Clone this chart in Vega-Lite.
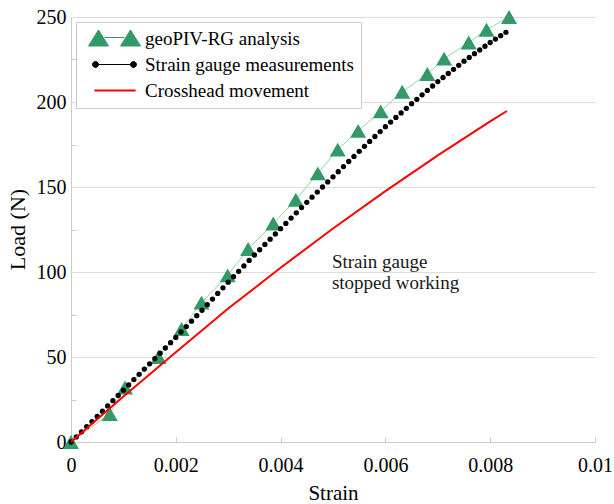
{
  "$schema": "https://vega.github.io/schema/vega-lite/v6.json",
  "width": 524,
  "height": 425,
  "autosize": {"type": "none"},
  "padding": {"left": 71, "top": 17, "right": 19, "bottom": 62},
  "background": "white",
  "config": {
    "view": {"stroke": null},
    "font": "Liberation Serif"
  },
  "datasets": {
    "main": [
      {"series": "geoPIV-RG analysis", "strain": 0, "load": 0},
      {"series": "geoPIV-RG analysis", "strain": 0.00074, "load": 16.5},
      {"series": "geoPIV-RG analysis", "strain": 0.00103, "load": 32},
      {"series": "geoPIV-RG analysis", "strain": 0.00167, "load": 50},
      {"series": "geoPIV-RG analysis", "strain": 0.00211, "load": 66.5},
      {"series": "geoPIV-RG analysis", "strain": 0.00249, "load": 82},
      {"series": "geoPIV-RG analysis", "strain": 0.00299, "load": 98},
      {"series": "geoPIV-RG analysis", "strain": 0.00338, "load": 113.5},
      {"series": "geoPIV-RG analysis", "strain": 0.00386, "load": 128.5},
      {"series": "geoPIV-RG analysis", "strain": 0.00429, "load": 142.5},
      {"series": "geoPIV-RG analysis", "strain": 0.00471, "load": 158},
      {"series": "geoPIV-RG analysis", "strain": 0.00509, "load": 172},
      {"series": "geoPIV-RG analysis", "strain": 0.00548, "load": 183},
      {"series": "geoPIV-RG analysis", "strain": 0.00591, "load": 194.5},
      {"series": "geoPIV-RG analysis", "strain": 0.00632, "load": 206},
      {"series": "geoPIV-RG analysis", "strain": 0.0068, "load": 216.5},
      {"series": "geoPIV-RG analysis", "strain": 0.00712, "load": 225.5},
      {"series": "geoPIV-RG analysis", "strain": 0.00759, "load": 235},
      {"series": "geoPIV-RG analysis", "strain": 0.00793, "load": 242.5},
      {"series": "geoPIV-RG analysis", "strain": 0.00836, "load": 250},
      {"series": "Crosshead movement", "strain": 0, "load": 0},
      {"series": "Crosshead movement", "strain": 0.001, "load": 26.8},
      {"series": "Crosshead movement", "strain": 0.002, "load": 52.8},
      {"series": "Crosshead movement", "strain": 0.003, "load": 78.5},
      {"series": "Crosshead movement", "strain": 0.004, "load": 102.5},
      {"series": "Crosshead movement", "strain": 0.005, "load": 125.6},
      {"series": "Crosshead movement", "strain": 0.006, "load": 147.6},
      {"series": "Crosshead movement", "strain": 0.007, "load": 168.6},
      {"series": "Crosshead movement", "strain": 0.008, "load": 188.6},
      {"series": "Crosshead movement", "strain": 0.00832, "load": 194.7},
      {"series": "Strain gauge measurements", "strain": 0, "load": 0},
      {"series": "Strain gauge measurements", "strain": 0.0001, "load": 3},
      {"series": "Strain gauge measurements", "strain": 0.0002, "load": 6},
      {"series": "Strain gauge measurements", "strain": 0.0003, "load": 9},
      {"series": "Strain gauge measurements", "strain": 0.0004, "load": 12},
      {"series": "Strain gauge measurements", "strain": 0.0005, "load": 15},
      {"series": "Strain gauge measurements", "strain": 0.0006, "load": 18.1},
      {"series": "Strain gauge measurements", "strain": 0.0007, "load": 21.2},
      {"series": "Strain gauge measurements", "strain": 0.0008, "load": 24.3},
      {"series": "Strain gauge measurements", "strain": 0.0009, "load": 27.4},
      {"series": "Strain gauge measurements", "strain": 0.001, "load": 30.5},
      {"series": "Strain gauge measurements", "strain": 0.0011, "load": 33.6},
      {"series": "Strain gauge measurements", "strain": 0.0012, "load": 36.7},
      {"series": "Strain gauge measurements", "strain": 0.0013, "load": 39.8},
      {"series": "Strain gauge measurements", "strain": 0.0014, "load": 42.9},
      {"series": "Strain gauge measurements", "strain": 0.0015, "load": 46},
      {"series": "Strain gauge measurements", "strain": 0.0016, "load": 49.1},
      {"series": "Strain gauge measurements", "strain": 0.0017, "load": 52.2},
      {"series": "Strain gauge measurements", "strain": 0.0018, "load": 55.3},
      {"series": "Strain gauge measurements", "strain": 0.0019, "load": 58.4},
      {"series": "Strain gauge measurements", "strain": 0.002, "load": 61.5},
      {"series": "Strain gauge measurements", "strain": 0.0021, "load": 64.7},
      {"series": "Strain gauge measurements", "strain": 0.0022, "load": 67.9},
      {"series": "Strain gauge measurements", "strain": 0.0023, "load": 71.1},
      {"series": "Strain gauge measurements", "strain": 0.0024, "load": 74.3},
      {"series": "Strain gauge measurements", "strain": 0.0025, "load": 77.5},
      {"series": "Strain gauge measurements", "strain": 0.0026, "load": 80.8},
      {"series": "Strain gauge measurements", "strain": 0.0027, "load": 84.1},
      {"series": "Strain gauge measurements", "strain": 0.0028, "load": 87.4},
      {"series": "Strain gauge measurements", "strain": 0.0029, "load": 90.7},
      {"series": "Strain gauge measurements", "strain": 0.003, "load": 94},
      {"series": "Strain gauge measurements", "strain": 0.0031, "load": 97.2},
      {"series": "Strain gauge measurements", "strain": 0.0032, "load": 100.4},
      {"series": "Strain gauge measurements", "strain": 0.0033, "load": 103.6},
      {"series": "Strain gauge measurements", "strain": 0.0034, "load": 106.8},
      {"series": "Strain gauge measurements", "strain": 0.0035, "load": 110},
      {"series": "Strain gauge measurements", "strain": 0.0036, "load": 113.1},
      {"series": "Strain gauge measurements", "strain": 0.0037, "load": 116.2},
      {"series": "Strain gauge measurements", "strain": 0.0038, "load": 119.3},
      {"series": "Strain gauge measurements", "strain": 0.0039, "load": 122.4},
      {"series": "Strain gauge measurements", "strain": 0.004, "load": 125.5},
      {"series": "Strain gauge measurements", "strain": 0.0041, "load": 128.6},
      {"series": "Strain gauge measurements", "strain": 0.0042, "load": 131.7},
      {"series": "Strain gauge measurements", "strain": 0.0043, "load": 134.8},
      {"series": "Strain gauge measurements", "strain": 0.0044, "load": 137.9},
      {"series": "Strain gauge measurements", "strain": 0.0045, "load": 141},
      {"series": "Strain gauge measurements", "strain": 0.0046, "load": 144},
      {"series": "Strain gauge measurements", "strain": 0.0047, "load": 147},
      {"series": "Strain gauge measurements", "strain": 0.0048, "load": 150},
      {"series": "Strain gauge measurements", "strain": 0.0049, "load": 153},
      {"series": "Strain gauge measurements", "strain": 0.005, "load": 156},
      {"series": "Strain gauge measurements", "strain": 0.0051, "load": 159},
      {"series": "Strain gauge measurements", "strain": 0.0052, "load": 162},
      {"series": "Strain gauge measurements", "strain": 0.0053, "load": 165},
      {"series": "Strain gauge measurements", "strain": 0.0054, "load": 168},
      {"series": "Strain gauge measurements", "strain": 0.0055, "load": 171},
      {"series": "Strain gauge measurements", "strain": 0.0056, "load": 173.9},
      {"series": "Strain gauge measurements", "strain": 0.0057, "load": 176.8},
      {"series": "Strain gauge measurements", "strain": 0.0058, "load": 179.7},
      {"series": "Strain gauge measurements", "strain": 0.0059, "load": 182.6},
      {"series": "Strain gauge measurements", "strain": 0.006, "load": 185.5},
      {"series": "Strain gauge measurements", "strain": 0.0061, "load": 188.2},
      {"series": "Strain gauge measurements", "strain": 0.0062, "load": 190.9},
      {"series": "Strain gauge measurements", "strain": 0.0063, "load": 193.6},
      {"series": "Strain gauge measurements", "strain": 0.0064, "load": 196.3},
      {"series": "Strain gauge measurements", "strain": 0.0065, "load": 199},
      {"series": "Strain gauge measurements", "strain": 0.0066, "load": 201.6},
      {"series": "Strain gauge measurements", "strain": 0.0067, "load": 204.2},
      {"series": "Strain gauge measurements", "strain": 0.0068, "load": 206.8},
      {"series": "Strain gauge measurements", "strain": 0.0069, "load": 209.4},
      {"series": "Strain gauge measurements", "strain": 0.007, "load": 212},
      {"series": "Strain gauge measurements", "strain": 0.0071, "load": 214.4},
      {"series": "Strain gauge measurements", "strain": 0.0072, "load": 216.8},
      {"series": "Strain gauge measurements", "strain": 0.0073, "load": 219.2},
      {"series": "Strain gauge measurements", "strain": 0.0074, "load": 221.6},
      {"series": "Strain gauge measurements", "strain": 0.0075, "load": 224},
      {"series": "Strain gauge measurements", "strain": 0.0076, "load": 226.2},
      {"series": "Strain gauge measurements", "strain": 0.0077, "load": 228.4},
      {"series": "Strain gauge measurements", "strain": 0.0078, "load": 230.6},
      {"series": "Strain gauge measurements", "strain": 0.0079, "load": 232.8},
      {"series": "Strain gauge measurements", "strain": 0.008, "load": 235},
      {"series": "Strain gauge measurements", "strain": 0.0081, "load": 237},
      {"series": "Strain gauge measurements", "strain": 0.0082, "load": 239},
      {"series": "Strain gauge measurements", "strain": 0.0083, "load": 241}
    ],
    "notes": [
      {"strain": 0.00498, "load": 102.5, "text": ["Strain gauge", "stopped working"]}
    ]
  },
  "layer": [
    {
      "data": {"name": "main"},
      "transform": [{"filter": "datum.series === 'geoPIV-RG analysis'"}],
      "mark": {"type": "line", "strokeWidth": 1},
      "encoding": {
        "x": {"field": "strain", "type": "quantitative"},
        "y": {"field": "load", "type": "quantitative"},
        "color": {"value": "#96d6a4"}
      }
    },
    {
      "data": {"name": "main"},
      "transform": [{"filter": "datum.series === 'geoPIV-RG analysis'"}],
      "mark": {"type": "point", "shape": "triangle-up", "filled": true, "size": 256, "opacity": 1},
      "encoding": {
        "x": {"field": "strain", "type": "quantitative"},
        "y": {"field": "load", "type": "quantitative"}
      }
    },
    {
      "data": {"name": "main"},
      "transform": [{"filter": "datum.series === 'Strain gauge measurements'"}],
      "mark": {"type": "point", "shape": "circle", "filled": true, "size": 28, "opacity": 1},
      "encoding": {
        "x": {"field": "strain", "type": "quantitative"},
        "y": {"field": "load", "type": "quantitative"}
      }
    },
    {
      "data": {"name": "main"},
      "transform": [{"filter": "datum.series === 'Crosshead movement'"}],
      "mark": {"type": "line", "strokeWidth": 2},
      "encoding": {
        "x": {"field": "strain", "type": "quantitative"},
        "y": {"field": "load", "type": "quantitative"}
      }
    },
    {
      "data": {"name": "notes"},
      "mark": {"type": "text", "align": "left", "baseline": "alphabetic", "font": "Liberation Serif", "fontSize": 19, "lineHeight": 21},
      "encoding": {
        "x": {"field": "strain", "type": "quantitative"},
        "y": {"field": "load", "type": "quantitative"},
        "text": {"field": "text", "type": "nominal"},
        "color": {"value": "#1a1a1a"}
      }
    }
  ],
  "encoding": {
    "x": {
      "field": "strain",
      "type": "quantitative",
      "scale": {"domain": [0, 0.01], "nice": false, "zero": false},
      "axis": {
        "title": "Strain",
        "values": [0, 0.002, 0.004, 0.006, 0.008, 0.01],
        "format": "~g",
        "grid": false,
        "domainColor": "#cccccc",
        "tickColor": "#cccccc",
        "tickSize": -5,
        "labelPadding": 18,
        "labelFont": "Liberation Serif",
        "labelFontSize": 20,
        "labelColor": "black",
        "labelFlush": false,
        "labelOverlap": false,
        "titleFont": "Liberation Serif",
        "titleFontSize": 21,
        "titleFontWeight": "normal",
        "titleColor": "black",
        "titleX": 262,
        "titleY": 57,
        "titleBaseline": "alphabetic"
      }
    },
    "y": {
      "field": "load",
      "type": "quantitative",
      "scale": {"domain": [0, 250], "nice": false},
      "axis": {
        "title": "Load (N)",
        "values": [0, 25, 50, 75, 100, 125, 150, 175, 200, 225, 250],
        "labelExpr": "datum.value % 50 === 0 ? datum.label : ''",
        "grid": true,
        "gridColor": "#dddddd",
        "gridOpacity": {"condition": {"test": "datum.value % 50 === 0", "value": 1}, "value": 0},
        "tickOpacity": {"condition": {"test": "datum.value % 50 === 0", "value": 0}, "value": 1},
        "domainColor": "#cccccc",
        "tickColor": "#cccccc",
        "tickSize": -5,
        "labelPadding": 10,
        "labelFont": "Liberation Serif",
        "labelFontSize": 20,
        "labelColor": "black",
        "labelFlush": false,
        "labelOverlap": false,
        "titleFont": "Liberation Serif",
        "titleFontSize": 22,
        "titleFontWeight": "normal",
        "titleColor": "black",
        "titleX": -54,
        "titleY": 212,
        "titleBaseline": "middle"
      }
    },
    "color": {
      "field": "series",
      "type": "nominal",
      "scale": {
        "domain": ["geoPIV-RG analysis", "Strain gauge measurements", "Crosshead movement"],
        "range": ["#339966", "#000000", "#ff0000"]
      },
      "legend": {
        "title": null,
        "orient": "none",
        "legendX": 5,
        "legendY": 5,
        "padding": 7,
        "strokeColor": "#cccccc",
        "fillColor": "white",
        "labelFont": "Liberation Serif",
        "labelFontSize": 19,
        "labelColor": "black",
        "labelLimit": 0,
        "symbolSize": 400,
        "labelOffset": 43,
        "rowPadding": 6,
        "symbolStrokeWidth": 1,
        "encode": {
          "symbols": {
            "update": {
              "shape": {"signal": "datum.value === 'geoPIV-RG analysis' ? 'M-0.4,0.75L0.6,-0.85L1.6,0.75Z M1.2,-0.1L3.2,-0.1 M2.8,0.75L3.8,-0.85L4.8,0.75Z' : datum.value === 'Strain gauge measurements' ? 'M0,0A0.3,0.3 0 1,0 0.6,0A0.3,0.3 0 1,0 0,0Z M0.6,0L3.8,0 M3.8,0A0.3,0.3 0 1,0 4.4,0A0.3,0.3 0 1,0 3.8,0Z' : 'M0.2,0L4.3,0'"},
              "fill": {"signal": "datum.value === 'geoPIV-RG analysis' ? '#339966' : datum.value === 'Strain gauge measurements' ? '#000000' : 'transparent'"},
              "stroke": {"signal": "datum.value === 'geoPIV-RG analysis' ? '#96d6a4' : datum.value === 'Strain gauge measurements' ? '#888888' : '#ff0000'"},
              "strokeWidth": {"signal": "datum.value === 'Crosshead movement' ? 2 : 1"},
              "opacity": {"value": 1},
              "fillOpacity": {"value": 1},
              "strokeOpacity": {"value": 1}
            }
          }
        }
      }
    }
  }
}
